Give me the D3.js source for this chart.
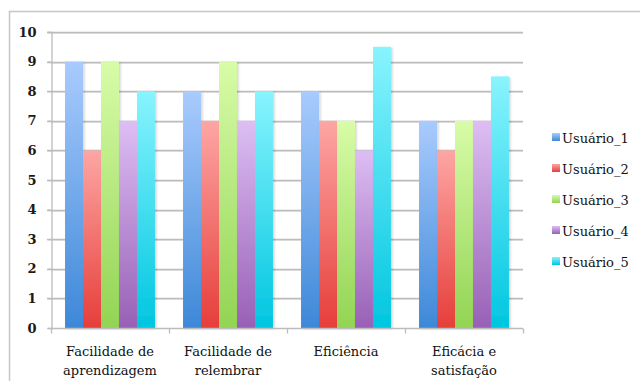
<!DOCTYPE html>
<html>
<head>
<meta charset="utf-8">
<script src="https://cdn.jsdelivr.net/npm/d3@7"></script>
<style>
  html, body { margin: 0; padding: 0; background: #fff; }
  svg { display: block; }
</style>
</head>
<body>
<svg id="chart" width="640" height="381"></svg>
<script>
// Data
const categories = [
  ["Facilidade de", "aprendizagem"],
  ["Facilidade de", "relembrar"],
  ["Eficiência"],
  ["Eficácia e", "satisfação"]
];
const seriesNames = ["Usuário_1", "Usuário_2", "Usuário_3", "Usuário_4", "Usuário_5"];
const usuario1 = [9, 8, 8, 7];
const usuario2 = [6, 7, 7, 6];
const usuario3 = [9, 9, 7, 7];
const usuario4 = [7, 7, 6, 7];
const usuario5 = [8, 8, 9.5, 8.5];
const seriesValues = [usuario1, usuario2, usuario3, usuario4, usuario5];
const yTicks = [0, 1, 2, 3, 4, 5, 6, 7, 8, 9, 10];

const FONT = "'DejaVu Serif', serif";

// Gradient stops per series: [top, bottom]
const palette = [
  ["#a9cbfd", "#3d88d8"],
  ["#fda6a4", "#e63e3a"],
  ["#d8fca8", "#92d454"],
  ["#ddbef3", "#9860b6"],
  ["#88f4fe", "#00c6e0"]
];

const svg = d3.select("#chart");
const defs = svg.append("defs");

palette.forEach((c, i) => {
  const g = defs.append("linearGradient")
    .attr("id", "grad" + i)
    .attr("x1", 0).attr("y1", 0).attr("x2", 0).attr("y2", 1);
  g.append("stop").attr("offset", "0%").attr("stop-color", c[0]);
  g.append("stop").attr("offset", "100%").attr("stop-color", c[1]);
});

const shadow = defs.append("filter").attr("id", "barShadow")
  .attr("x", "-20%").attr("y", "-5%").attr("width", "150%").attr("height", "115%");
shadow.append("feDropShadow")
  .attr("dx", 1.5).attr("dy", 1).attr("stdDeviation", 1)
  .attr("flood-color", "#000").attr("flood-opacity", 0.18);

// Outer frame (top and left edges)
svg.append("line").attr("x1", 9).attr("x2", 640).attr("y1", 11.5).attr("y2", 11.5)
  .attr("stroke", "#c6c6c6").attr("stroke-width", 1.5);
svg.append("line").attr("x1", 9.5).attr("x2", 9.5).attr("y1", 11).attr("y2", 381)
  .attr("stroke", "#c6c6c6").attr("stroke-width", 1.5);

const plot = { left: 51, right: 523, top: 32, bottom: 328 };

const x = d3.scaleBand()
  .domain(d3.range(categories.length))
  .range([plot.left, plot.right])
  .padding(0);

const xSub = d3.scaleBand()
  .domain(d3.range(seriesNames.length))
  .range([0, x.bandwidth()])
  .paddingInner(0)
  .paddingOuter(0.78);

const y = d3.scaleLinear().domain([0, 10]).range([plot.bottom, plot.top]);

// Gridlines
const grid = svg.append("g");
grid.selectAll("line.shadow")
  .data(yTicks.filter(t => t > 0))
  .enter().append("line")
  .attr("x1", plot.left).attr("x2", plot.right)
  .attr("y1", d => Math.round(y(d)) + 1.5).attr("y2", d => Math.round(y(d)) + 1.5)
  .attr("stroke", "#e6e6e6").attr("stroke-width", 1);
grid.selectAll("line.main")
  .data(yTicks.filter(t => t > 0))
  .enter().append("line")
  .attr("x1", plot.left - 4).attr("x2", plot.right)
  .attr("y1", d => Math.round(y(d)) + 0.5).attr("y2", d => Math.round(y(d)) + 0.5)
  .attr("stroke", "#bcbcbc").attr("stroke-width", 1.3);

// Y axis
const yAxis = svg.append("g")
  .attr("transform", `translate(${plot.left + 0.5},0)`)
  .call(d3.axisLeft(y).tickValues(yTicks).tickSize(4).tickPadding(11).tickFormat(d3.format("d")));
yAxis.select(".domain").attr("stroke", "#bcbcbc").attr("stroke-width", 1.3);
yAxis.selectAll(".tick line").attr("stroke", "#bcbcbc").attr("stroke-width", 1.3);
yAxis.selectAll(".tick text")
  .style("font-family", FONT)
  .style("font-size", "13px").style("font-weight", "bold").style("fill", "#1a1a1a");

// Bars
const groups = svg.append("g").selectAll("g")
  .data(categories.map((c, i) => i))
  .enter().append("g")
  .attr("transform", i => `translate(${x(i)},0)`);

groups.selectAll("rect")
  .data(i => seriesValues.map((vals, s) => ({ s, v: vals[i] })))
  .enter().append("rect")
  .attr("x", d => xSub(d.s))
  .attr("width", xSub.bandwidth())
  .attr("y", d => y(d.v))
  .attr("height", d => y(0) - y(d.v))
  .attr("fill", d => `url(#grad${d.s})`)
  .attr("filter", "url(#barShadow)");

// X axis
const xAxisScale = d3.scaleLinear().domain([0, categories.length]).range([plot.left, plot.right]);
const xAxis = svg.append("g").attr("transform", `translate(0,${plot.bottom + 0.5})`);
xAxis.append("line").attr("x1", plot.left).attr("x2", plot.right)
  .attr("stroke", "#bcbcbc").attr("stroke-width", 1.3);
xAxis.selectAll("line.tick")
  .data(d3.range(categories.length + 1))
  .enter().append("line")
  .attr("x1", d => Math.round(xAxisScale(d)) + 0.5).attr("x2", d => Math.round(xAxisScale(d)) + 0.5)
  .attr("y1", 0).attr("y2", 5)
  .attr("stroke", "#bcbcbc").attr("stroke-width", 1.3);

const labels = svg.append("g").selectAll("text")
  .data(categories)
  .enter().append("text")
  .attr("text-anchor", "middle")
  .style("font-family", FONT)
  .style("font-size", "13px")
  .style("fill", "#111")
  .attr("transform", (d, i) => `translate(${x(i) + x.bandwidth() / 2},356)`);
labels.selectAll("tspan")
  .data(d => d)
  .enter().append("tspan")
  .attr("x", 0)
  .attr("y", (d, j) => j * 18.5)
  .text(d => d);

// Legend
const legend = svg.append("g").selectAll("g")
  .data(seriesNames)
  .enter().append("g")
  .attr("transform", (d, i) => `translate(552,${143 + i * 31})`);
legend.append("rect")
  .attr("x", 0).attr("y", -10).attr("width", 8).attr("height", 8)
  .attr("fill", (d, i) => `url(#grad${i})`);
legend.append("text")
  .attr("x", 10).attr("y", 0)
  .style("font-family", FONT)
  .style("font-size", "13px")
  .style("fill", "#111")
  .text(d => d);
</script>
</body>
</html>
